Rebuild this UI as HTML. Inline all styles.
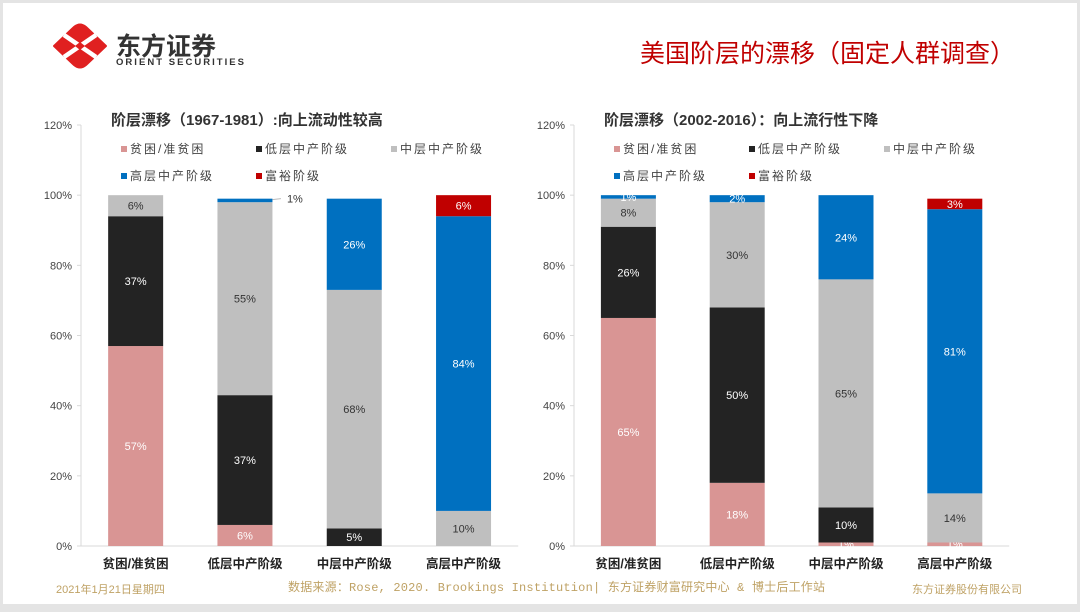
<!DOCTYPE html>
<html><head><meta charset="utf-8"><style>
body{margin:0;width:1080px;height:612px;background:#e4e4e4;font-family:"Liberation Sans","Noto Sans CJK SC",sans-serif;overflow:hidden}
#slide{position:absolute;left:3px;top:3px;width:1074px;height:601px;background:#fff}
</style></head><body>
<div id="slide"></div>
<svg id="svg" width="1080" height="612" style="position:absolute;left:0;top:0">
<g>
<g transform="translate(80,46)">
<path d="M-26,0 L-6,-19 Q0,-24 6,-19 L26,0 L6,19 Q0,24 -6,19Z" fill="#e02020" stroke="#e02020" stroke-width="2" stroke-linejoin="round"/>
<path d="M-16,-11 L16,11 M16,-11 L-16,11" stroke="#fff" stroke-width="4.5"/>
<path d="M-5,0 L0,-4 L5,0 L0,4Z" fill="#e02020"/>
</g>
<text x="116" y="55" font-size="25" font-weight="bold" fill="#333" font-family="'Noto Sans CJK SC',sans-serif">东方证券</text>
<text x="116" y="65" font-size="9.5" font-weight="bold" fill="#333" textLength="128">ORIENT SECURITIES</text>
</g>
<text x="640" y="62" font-size="25" fill="#c00000" font-family="'Noto Sans CJK SC',sans-serif">美国阶层的漂移（固定人群调查）</text>
<text x="56" y="593" font-size="11" fill="#bfa265">2021年1月21日星期四</text>
<text x="288" y="591" font-size="12" fill="#bfa265" textLength="537" font-family="'Liberation Mono','Noto Sans CJK SC',monospace">数据来源：Rose, 2020. Brookings Institution| 东方证券财富研究中心 &amp; 博士后工作站</text>
<text x="912" y="593" font-size="11" fill="#bfa265">东方证券股份有限公司</text>
</svg>
<script>
const categories=["贫困/准贫困","低层中产阶级","中层中产阶级","高层中产阶级"];
const seriesNames=["贫困/准贫困","低层中产阶级","中层中产阶级","高层中产阶级","富裕阶级"];
const colors=["#d99594","#232323","#bfbfbf","#0070c0","#c00000"];
const ticks=[0,20,40,60,80,100,120];
const poorA=[57,6,0,0], lowA=[37,37,5,0], midA=[6,55,68,10], upA=[0,1,26,84], richA=[0,0,0,6];
const poorB=[65,18,1,1], lowB=[26,50,10,0], midB=[8,30,65,14], upB=[1,2,24,81], richB=[0,0,0,3];
const svg=document.getElementById('svg');
const NS='http://www.w3.org/2000/svg';
function mk(t,a,p){const e=document.createElementNS(NS,t);for(const k in a)e.setAttribute(k,a[k]);(p||svg).appendChild(e);return e;}
function chart(ax,step,title,series,name){
  const g=mk('g',{});
  
  
  const y0=546,y1=125;
  const yS=v=>y0-(v/120)*(y0-y1);
  const xC=i=>ax+step*(i+0.5);
  const t=mk('text',{x:ax+30,y:125,'font-size':15,'font-weight':'bold',fill:'#333'},g);t.textContent=title;
  
  
  ticks.forEach(v=>{const l=mk('text',{x:ax-9,y:yS(v)+4,'font-size':11,fill:'#444','text-anchor':'end'},g);l.textContent=v+'%';
    
    
    mk('line',{x1:ax-4,x2:ax,y1:yS(v),y2:yS(v),stroke:'#d9d9d9'},g);});
  mk('line',{x1:ax,x2:ax,y1:y1,y2:y0,stroke:'#d9d9d9'},g);
  mk('line',{x1:ax,x2:ax+step*4,y1:y0,y2:y0,stroke:'#d9d9d9'},g);
  const lp=[[ax+40,153],[ax+175,153],[ax+310,153],[ax+40,180],[ax+175,180]];
  seriesNames.forEach((n,i)=>{const lg=mk('g',{},g);
    
    
    mk('rect',{x:lp[i][0],y:lp[i][1]-7,width:6,height:6,fill:colors[i]},lg);
    const tx=mk('text',{x:lp[i][0]+9,y:lp[i][1],'font-size':12,fill:'#444','letter-spacing':'2'},lg);tx.textContent=n;});
  categories.forEach((c,i)=>{
    const l=mk('text',{x:xC(i),y:568,'font-size':12.5,'font-weight':'bold',fill:'#222','text-anchor':'middle'},g);l.textContent=c;
    
    
    let acc=0;
    series.forEach((s,k)=>{const v=s[i];if(!v)return;
      const top=yS(acc+v),bot=yS(acc);
      const r=mk('rect',{x:xC(i)-27.5,y:top,width:55,height:bot-top,fill:colors[k]},g);
      
      
      const tc=(k==1||k>=3)?'#fff':'#333';
      let lx=xC(i),ly=(top+bot)/2+4;
      if(v<=1&&k==3&&i==1&&name=='chart-1967'){lx=xC(i)+42;ly=top+4;mk('line',{x1:xC(i)+27.5,y1:top+1,x2:xC(i)+36,y2:top,stroke:'#bbb'},g);const tt=mk('text',{x:lx,y:ly,'font-size':11,fill:'#333'},g);tt.textContent=v+'%';}
      else{const tt=mk('text',{x:lx,y:ly,'font-size':11,fill:(k==0)?'#fff':tc,'text-anchor':'middle'},g);tt.textContent=v+'%';
        
        }
      acc+=v;});
  });
}
chart(81,109.3,'阶层漂移（1967-1981）:向上流动性较高',[poorA,lowA,midA,upA,richA],'chart-1967');
chart(574,108.8,'阶层漂移（2002-2016）：向上流行性下降',[poorB,lowB,midB,upB,richB],'chart-2002');
</script>
</body></html>
